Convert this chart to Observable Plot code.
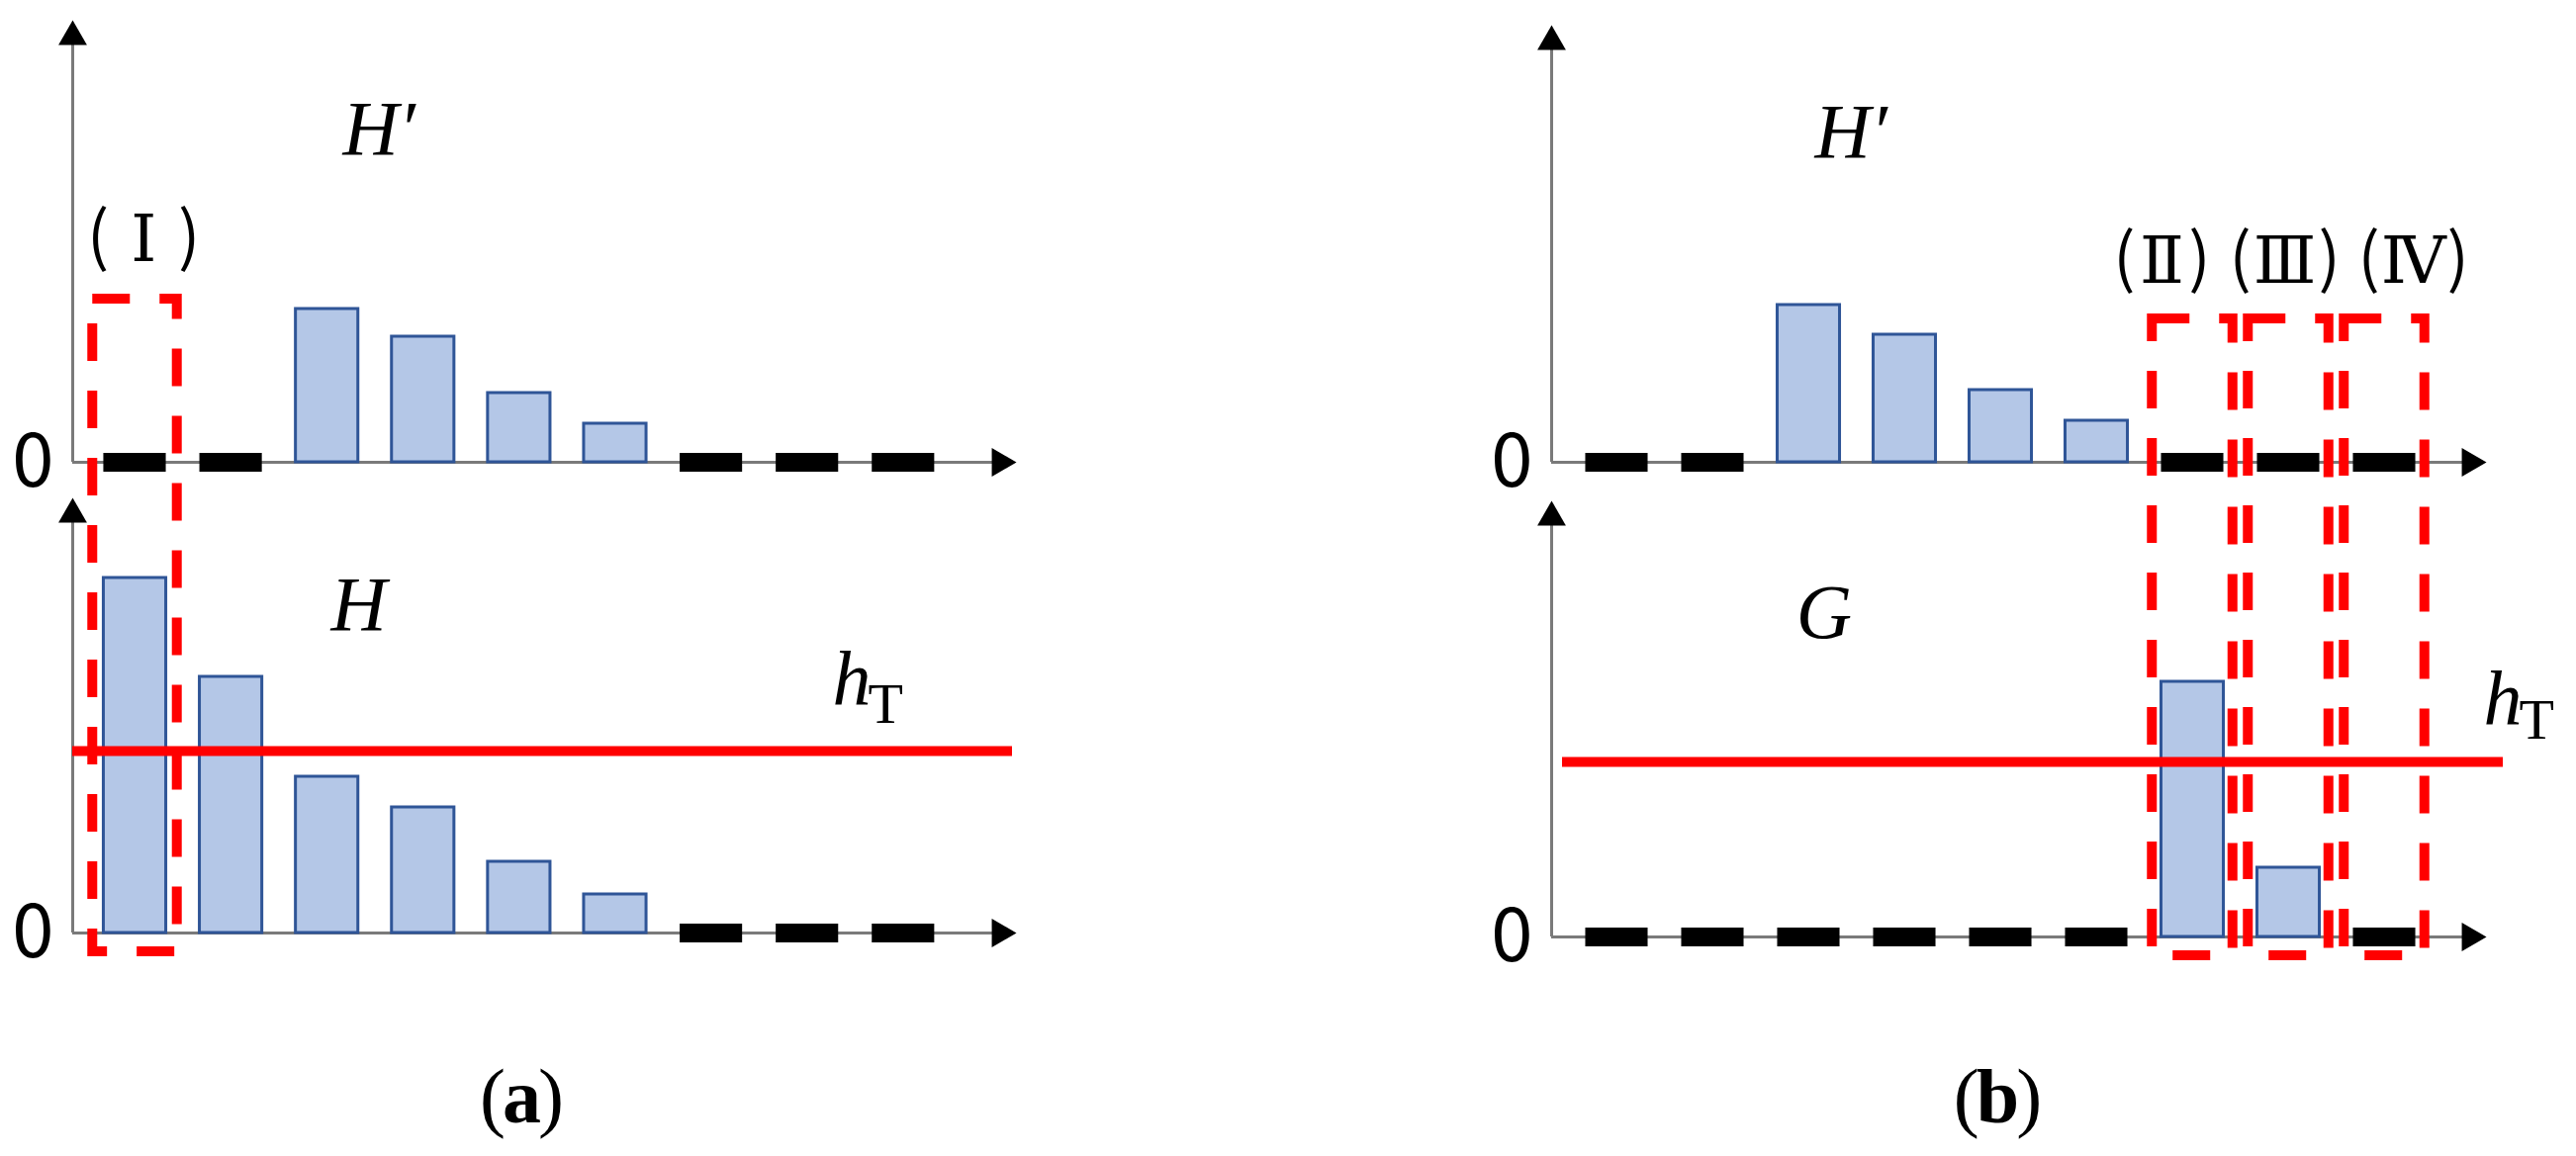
<!DOCTYPE html>
<html>
<head>
<meta charset="utf-8">
<script src="https://cdn.jsdelivr.net/npm/d3@7"></script>
<script src="https://cdn.jsdelivr.net/npm/@observablehq/plot@0.6"></script>
<style>
  html, body { margin: 0; padding: 0; background: #fff; }
  #fig { display: flex; width: 2604px; height: 1169px; overflow: hidden; background: #fff; }
  .panel { position: relative; }
  .panel svg { display: block; overflow: visible; }
  .caption { font-family: "Liberation Serif", "Times New Roman", serif; font-size: 78px; line-height: 1;
             padding-top: 70px; text-align: center; white-space: nowrap; color: #000; letter-spacing: -3px; }
  .caption b { font-weight: bold; }
</style>
</head>
<body>
<div id="fig"></div>
<script>
// ---------------- data ----------------
const bins = [0, 1, 2, 3, 4, 5, 6, 7, 8];

// panel (a)
const hPrimeA = [0, 0, 155, 127, 70, 39, 0, 0, 0];     // H'
const hA      = [359, 259, 158, 127, 72, 39, 0, 0, 0]; // H
const thresholdA = 184;                                 // h_T
const regionsA = [{label: "(Ⅰ)", bin: 0}];

// panel (b)
const hPrimeB = [0, 0, 159, 129, 73, 42, 0, 0, 0];     // H'
const gB      = [0, 0, 0, 0, 0, 0, 258, 70, 0];        // G
const thresholdB = 177;                                 // h_T
const regionsB = [{label: "(Ⅱ)", bin: 6}, {label: "(Ⅲ)", bin: 7}, {label: "(Ⅳ)", bin: 8}];

const zeroTick = "0";
const captions = ["a", "b"];

// ---------------- layout ----------------
const layoutA = {
  offset: 0, width: 1300, originPx: 136, slotPx: 97.1, axisPx: 73, baselinePx: 943, gap: 476,
  upperAxisTop: 447, lowerAxisTop: 440, arrowTipPx: 1027, lineStartPx: 73, lineEndPx: 1023,
  boxHalf: 0.44, boxTop: 165, boxBottom: -19,
  upperName: {text: "H′", x: 2.54, y: 312}, lowerName: {text: "H", x: 2.33, y: 307},
  hLabel: {x: 7.26, y: 231, tdy: 18}, regionLabelX: [0.09], regionLabelY: 227, parenOffset: [46],
  captionCenter: 526
};
const layoutB = {
  offset: 1300, width: 1304, originPx: 1634, slotPx: 97, axisPx: 1568, baselinePx: 947, gap: 480,
  upperAxisTop: 442, lowerAxisTop: 441, arrowTipPx: 2513, lineStartPx: 1579, lineEndPx: 2530,
  boxHalf: 0.42, boxTop: 145, boxBottom: -19,
  upperName: {text: "H′", x: 2.44, y: 309}, lowerName: {text: "G", x: 2.16, y: 303},
  hLabel: {x: 9.03, y: 215, tdy: 14}, regionLabelX: [5.68, 6.96, 8.3], regionLabelY: 205,
  parenOffset: [38, 45, 45],
  captionCenter: 718
};

const mathFont = "'Liberation Serif', 'DejaVu Serif', serif";
const cjkFont = "'Noto Sans CJK JP', 'Noto Sans', sans-serif";
const numeralFont = "'DejaVu Serif', 'Liberation Serif', serif";
const axisGray = "#7a7a7a";
const red = "#ff0000";

function panel(L, upperVals, lowerVals, threshold, regions) {
  const up = L.gap;
  const u = px => (px - L.originPx) / L.slotPx;
  const rows = bins.flatMap(i => [
    {i, base: up, v: upperVals[i]},
    {i, base: 0, v: lowerVals[i]}
  ]);
  const bars = rows.filter(d => d.v > 0);
  const empties = rows.filter(d => d.v === 0);
  const halfBar = 0.325;
  const axisX = u(L.axisPx);
  const headR = 10.7, headOff = 16.6;
  const hTipX = u(L.arrowTipPx - headOff);
  const labelY = up + L.regionLabelY;
  // each region label = "(" + numeral + ")", placed as three pieces
  const pieces = regions.flatMap((d, k) => [
    {text: d.label.slice(1, -1), x: L.regionLabelX[k], dx: 0, font: numeralFont, dy: 2},
    {text: d.label.slice(0, 1), x: L.regionLabelX[k], dx: -L.parenOffset[k], font: cjkFont, dy: 0},
    {text: d.label.slice(-1), x: L.regionLabelX[k], dx: L.parenOffset[k], font: cjkFont, dy: 0}
  ]);

  return Plot.plot({
    width: L.width,
    height: 1000,
    marginLeft: L.axisPx - L.offset,
    marginRight: 0, marginTop: 0, marginBottom: 0,
    x: {domain: [axisX, u(L.offset + L.width)], axis: null},
    y: {domain: [L.baselinePx - 1000, L.baselinePx]},
    style: {overflow: "visible", background: "transparent"},
    marks: [
      // "0" labels at both baselines
      Plot.axisY([0, up], {
        anchor: "left", tickSize: 0, tickPadding: 19, tickFormat: () => zeroTick,
        fontSize: 76, fontFamily: cjkFont, label: null
      }),
      // horizontal axes
      Plot.ruleY([0, up], {x1: axisX, x2: hTipX, stroke: axisGray, strokeWidth: 3}),
      // vertical axes
      Plot.ruleX([{b: up, t: up + L.upperAxisTop}, {b: 0, t: L.lowerAxisTop}],
        {x: axisX, y1: "b", y2: d => d.t - headOff, stroke: axisGray, strokeWidth: 3}),
      // bars
      Plot.rect(bars, {
        x1: d => d.i - halfBar, x2: d => d.i + halfBar,
        y1: "base", y2: d => d.base + d.v,
        fill: "#b4c7e7", stroke: "#2f5597", strokeWidth: 3
      }),
      // empty bins
      Plot.rect(empties, {
        x1: d => d.i - halfBar, x2: d => d.i + halfBar,
        y1: d => d.base - 10, y2: d => d.base + 9, fill: "black"
      }),
      // arrowheads
      Plot.dot([up + L.upperAxisTop - headOff, L.lowerAxisTop - headOff],
        {x: axisX, y: d => d, symbol: "triangle", r: headR, fill: "black", stroke: "none"}),
      Plot.dot([0, up],
        {x: hTipX, y: d => d, symbol: "triangle", r: headR, fill: "black", stroke: "none", rotate: 90}),
      // threshold
      Plot.ruleY([threshold], {x1: u(L.lineStartPx), x2: u(L.lineEndPx), stroke: red, strokeWidth: 10}),
      // dashed regions
      Plot.rect(regions, {
        x1: d => d.bin - L.boxHalf, x2: d => d.bin + L.boxHalf,
        y1: L.boxBottom, y2: up + L.boxTop,
        fill: "none", stroke: red, strokeWidth: 10, strokeDasharray: "38,30"
      }),
      // region labels
      ...pieces.map(p => Plot.text([p], {
        x: "x", y: labelY, text: "text", dx: p.dx, dy: p.dy,
        fontFamily: p.font, fontSize: 66, lineAnchor: "middle", textAnchor: "middle"
      })),
      // names
      Plot.text([L.upperName], {x: "x", y: d => up + d.y, text: "text",
        fontFamily: mathFont, fontStyle: "italic", fontSize: 78, lineAnchor: "bottom"}),
      Plot.text([L.lowerName], {x: "x", y: "y", text: "text",
        fontFamily: mathFont, fontStyle: "italic", fontSize: 78, lineAnchor: "bottom"}),
      Plot.text(["h"], {x: L.hLabel.x, y: L.hLabel.y, text: d => d, textAnchor: "start",
        fontFamily: mathFont, fontStyle: "italic", fontSize: 78, lineAnchor: "bottom"}),
      Plot.text(["T"], {x: L.hLabel.x, y: L.hLabel.y, text: d => d, textAnchor: "start",
        dx: 36, dy: L.hLabel.tdy,
        fontFamily: mathFont, fontSize: 58, lineAnchor: "bottom"})
    ]
  });
}

const fig = document.getElementById("fig");
[[layoutA, hPrimeA, hA, thresholdA, regionsA, captions[0]],
 [layoutB, hPrimeB, gB, thresholdB, regionsB, captions[1]]].forEach(([L, up, lo, th, rg, cap]) => {
  const div = document.createElement("div");
  div.className = "panel";
  div.style.width = L.width + "px";
  div.appendChild(panel(L, up, lo, th, rg));
  const c = document.createElement("div");
  c.className = "caption";
  c.style.width = (2 * L.captionCenter) + "px";
  c.innerHTML = "(<b>" + cap + "</b>)";
  div.appendChild(c);
  fig.appendChild(div);
});
</script>
</body>
</html>
